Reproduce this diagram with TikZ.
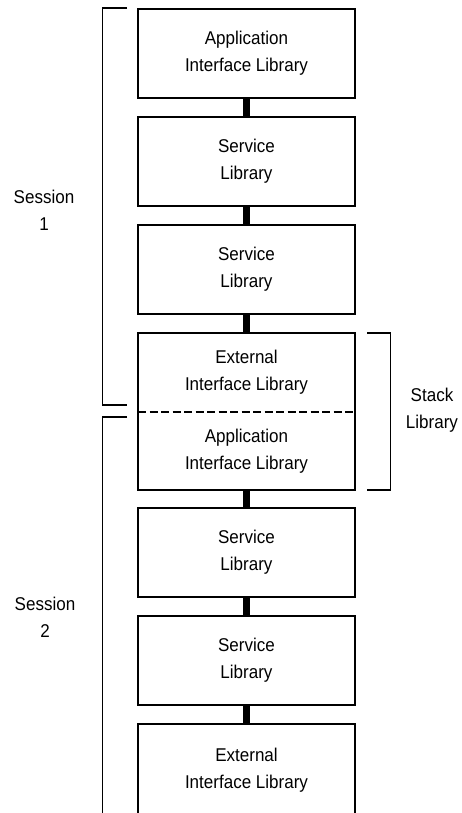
\documentclass[tikz,border=0pt]{standalone}
\usepackage{fontspec}
\setmainfont{Liberation Sans}[FakeStretch=0.92]
\tikzset{lib/.style={draw,line width=1.3pt,minimum width=217pt,minimum height=89pt,align=center,inner sep=0pt}}
\tikzset{half/.style={lib,draw=none,outer sep=0pt,minimum height=78.5pt}}
\tikzset{bus/.style={line width=7pt}}
\tikzset{brace/.style={line width=1.3pt}}
\tikzset{lbl/.style={align=center}}

\begin{document}
\begin{tikzpicture}[x=1pt,y=-1pt,font=\fontsize{18.5}{27}\selectfont]
\clip (0,0) rectangle (461,813);
% first session
\node[lib](api1) at (246.5,53.5) {Application\\Interface Library};
\node[lib](svc1) at (246.5,161.5) {Service\\Library};
\node[lib](svc2) at (246.5,269.5) {Service\\Library};
% stack library, shared by both sessions
\node[half](ext1) at (246.5,372.25) {External\\Interface Library};
\node[half](api2) at (246.5,450.75) {Application\\Interface Library};
\draw[line width=1.3pt] (ext1.north west) rectangle (api2.south east);
\draw[line width=2pt,dash pattern=on 8pt off 3.5pt] (ext1.south west) -- (ext1.south east);
% second session, last box runs off the bottom
\node[lib](svc3) at (246.5,552.5) {Service\\Library};
\node[lib](svc4) at (246.5,660.5) {Service\\Library};
\node[lib,minimum height=93pt](ext2) at (246.5,770.5) {External\\Interface Library};

\draw[bus] (api1.south) -- (svc1.north);
\draw[bus] (svc1.south) -- (svc2.north);
\draw[bus] (svc2.south) -- (ext1.north);
\draw[bus] (api2.south) -- (svc3.north);
\draw[bus] (svc3.south) -- (svc4.north);
\draw[bus] (svc4.south) -- (ext2.north);

% brackets
\draw[brace] (127,8) -- (102.5,8) -- (102.5,405) -- (127,405);
\draw[brace] (127,417) -- (102.5,417) -- (102.5,830);
\draw[brace] (367,333) -- (390.5,333) -- (390.5,490) -- (367,490);

\node[lbl](sess1) at (44,210) {Session\\1};
\node[lbl](sess2) at (45,617) {Session\\2};
\node[lbl](stack) at (432,410) {Stack\\Library};
\end{tikzpicture}
\end{document}
